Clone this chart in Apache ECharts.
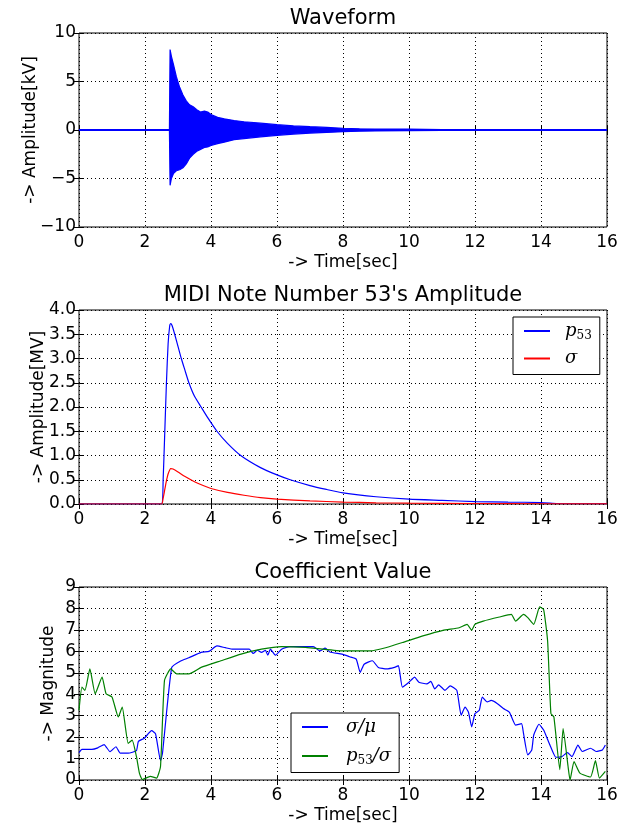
<!DOCTYPE html>
<html>
<head>
<meta charset="utf-8">
<script src="https://cdn.jsdelivr.net/npm/echarts@6/dist/echarts.min.js"></script>
<style>
  html, body { margin: 0; padding: 0; background: #fff; }
  #chart { width: 632px; height: 825px; }
</style>
</head>
<body>
<div id="chart"></div>
<script>
// ---- data ----
// waveform envelope [sec, kV]
var waveUpper = [[2.74,0],[2.76,8.3],[2.8,7.6],[2.86,6.8],[2.95,5.5],[3.05,4.4],[3.15,3.6],[3.25,3.0],[3.35,2.6],
  [3.46,2.4],[3.57,2.1],[3.68,1.85],[3.8,1.95],[3.9,1.85],[4.0,1.6],[4.2,1.3],[4.4,1.15],[4.7,0.97],[5.0,0.85],
  [5.5,0.7],[6.0,0.55],[6.5,0.42],[7.0,0.34],[7.5,0.27],[8.0,0.18],[8.5,0.13],[9.0,0.1],[10,0.08],[11,0.05],
  [12,0.04],[13,0.03],[14,0.03],[16,0.02]];
var waveLower = [[2.74,0],[2.76,-5.7],[2.8,-5.0],[2.86,-4.5],[2.95,-4.2],[3.05,-4.1],[3.15,-3.9],[3.25,-3.5],
  [3.35,-2.9],[3.46,-2.5],[3.57,-2.2],[3.68,-2.0],[3.8,-1.8],[3.9,-1.75],[4.0,-1.6],[4.2,-1.4],[4.4,-1.25],
  [4.7,-1.0],[5.0,-0.88],[5.5,-0.7],[6.0,-0.55],[6.5,-0.42],[7.0,-0.32],[7.5,-0.25],[8.0,-0.17],[8.5,-0.12],
  [9.0,-0.1],[10,-0.07],[11,-0.05],[12,-0.04],[13,-0.03],[14,-0.03],[16,-0.02]];
var waveRest = [[0,0],[16,0]];

// MIDI note 53 amplitude [sec, MV]
var p53 = [[0,0],[2.5,0],[2.55,0.5],[2.6,1.5],[2.65,2.5],[2.7,3.3],[2.75,3.68],[2.78,3.72],[2.82,3.68],
  [2.9,3.5],[3.0,3.25],[3.1,3.0],[3.2,2.78],[3.33,2.5],[3.5,2.22],[3.7,2.0],[3.9,1.78],[4.18,1.5],[4.5,1.25],
  [4.9,1.0],[5.5,0.75],[6.0,0.6],[6.4,0.5],[7.0,0.38],[7.5,0.3],[8.0,0.23],[9.0,0.15],[10,0.1],[11,0.075],
  [12,0.05],[13,0.04],[14,0.03],[14.5,0.01],[15,0.005],[16,0.005]];
var sigma = [[0,0],[2.5,0],[2.55,0.12],[2.6,0.3],[2.65,0.48],[2.7,0.62],[2.78,0.73],[2.85,0.72],[3.0,0.66],
  [3.2,0.57],[3.5,0.46],[3.8,0.37],[4.0,0.32],[4.5,0.24],[5.0,0.18],[5.5,0.13],[6.0,0.1],[7.0,0.065],[8.0,0.04],
  [9,0.025],[10,0.018],[12,0.01],[14,0.005],[16,0.003]];

// coefficient values [sec, magnitude]
var sigmaMu = [[0,1.28],[0.09,1.43],[0.39,1.43],[0.57,1.5],[0.76,1.65],[0.94,1.32],[1.12,1.55],[1.25,1.25],
  [1.49,1.25],[1.74,1.37],[1.8,1.8],[1.98,1.95],[2.2,2.3],[2.32,2.15],[2.47,0.9],[2.53,1.25],[2.81,5.25],
  [3.08,5.55],[3.33,5.7],[3.7,5.95],[3.94,6.0],[4.18,6.25],[4.43,6.17],[4.67,6.1],[5.16,6.1],[5.28,5.9],
  [5.4,6.05],[5.53,5.95],[5.65,6.05],[5.72,5.82],[5.8,6.1],[5.95,5.82],[6.14,6.1],[6.38,6.22],[7.1,6.22],
  [7.3,6.02],[7.46,6.15],[7.6,5.97],[7.97,5.87],[8.2,5.75],[8.4,5.64],[8.52,5.02],[8.64,5.4],[8.89,5.56],
  [9.07,5.25],[9.32,5.18],[9.56,5.25],[9.68,5.33],[9.8,4.33],[10.0,4.56],[10.17,4.8],[10.3,4.56],[10.54,4.48],
  [10.66,4.6],[10.78,4.25],[10.9,4.44],[11.09,4.18],[11.25,4.39],[11.45,4.18],[11.58,3.02],[11.7,3.4],
  [11.8,3.17],[11.9,2.48],[12.0,3.1],[12.13,3.25],[12.22,3.87],[12.37,3.64],[12.49,3.71],[12.68,3.56],
  [12.86,3.33],[13.04,3.17],[13.23,2.56],[13.41,2.63],[13.47,2.17],[13.6,1.17],[13.72,1.4],[13.78,2.1],
  [13.94,2.6],[14.08,2.33],[14.27,1.63],[14.45,1.06],[14.63,1.09],[14.8,1.28],[14.94,1.09],[15.12,1.63],
  [15.25,1.33],[15.5,1.48],[15.67,1.33],[15.86,1.4],[15.95,1.63]];
var p53Sigma = [[0,3.25],[0.09,4.33],[0.18,4.18],[0.33,5.18],[0.49,4.02],[0.7,4.8],[0.82,4.02],[1.0,3.87],
  [1.19,2.94],[1.31,3.4],[1.49,1.71],[1.61,1.86],[1.74,1.1],[1.83,0.32],[1.92,0.02],[2.16,0.17],[2.35,0.09],
  [2.47,0.63],[2.59,4.64],[2.78,5.18],[2.96,4.95],[3.33,4.95],[3.7,5.25],[4.3,5.56],[4.91,5.87],[5.53,6.1],
  [6.14,6.22],[6.87,6.18],[7.97,6.02],[8.83,6.02],[9.32,6.18],[9.8,6.41],[10.42,6.72],[11.03,6.98],
  [11.52,7.1],[11.76,7.26],[11.9,6.98],[12.0,7.26],[12.25,7.41],[12.74,7.6],[13.1,7.72],[13.23,7.41],
  [13.47,7.72],[13.6,7.57],[13.78,7.26],[13.96,8.07],[14.08,7.95],[14.2,6.49],[14.3,3.1],[14.39,2.94],
  [14.57,0.48],[14.67,2.4],[14.82,0.63],[14.88,0],[15.0,0.86],[15.18,0.32],[15.5,0.14],[15.65,0.9],
  [15.77,0.09],[15.95,0.4]];

var titles = ['Waveform', "MIDI Note Number 53's Amplitude", 'Coefficient Value'];
var yNames = ['-> Amplitude[kV]', '-> Amplitude[MV]', '-> Magnitude'];
var yRanges = [[-10, 10, 5], [0, 4, 0.5], [0, 9, 1]];

var FONT = 'DejaVu Sans';
var gridTops = [33, 310, 587];
var yNameGaps = [40, 32, 22];

var chart = echarts.init(document.getElementById('chart'));

var grids = [], xAxes = [], yAxes = [], titleList = [];
for (var i = 0; i < 3; i++) {
  grids.push({
    left: 79, top: gridTops[i], width: 528, height: 194,
    show: true, borderColor: '#000', borderWidth: 1, backgroundColor: '#fff'
  });
  titleList.push({
    text: titles[i], left: 343, top: gridTops[i] - 25, textAlign: 'center', padding: 0,
    textStyle: { fontFamily: FONT, fontSize: 21, fontWeight: 'normal', color: '#000' }
  });
  // bottom axis with labels
  xAxes.push({
    gridIndex: i, type: 'value', min: 0, max: 16, interval: 2,
    name: '-> Time[sec]', nameLocation: 'middle', nameGap: 27, nameMoveOverlap: false,
    nameTextStyle: { fontFamily: FONT, fontSize: 17, color: '#000' },
    axisLine: { show: false },
    axisTick: { inside: true, length: 5, lineStyle: { color: '#000' } },
    axisLabel: { margin: 7, fontFamily: FONT, fontSize: 17, color: '#000' },
    splitLine: { show: true, lineStyle: { color: '#000', type: [1, 3], width: 1 } }
  });
  // top axis, ticks only
  xAxes.push({
    gridIndex: i, type: 'value', min: 0, max: 16, interval: 2, position: 'top',
    axisLine: { show: false },
    axisTick: { inside: true, length: 5, lineStyle: { color: '#000' } },
    axisLabel: { show: false }, splitLine: { show: false }
  });
  var r = yRanges[i];
  yAxes.push({
    gridIndex: i, type: 'value', min: r[0], max: r[1], interval: r[2],
    name: yNames[i], nameLocation: 'middle', nameGap: yNameGaps[i], nameRotate: 90, nameMoveOverlap: false,
    nameTextStyle: { fontFamily: FONT, fontSize: 17, color: '#000' },
    axisLine: { show: false },
    axisTick: { inside: true, length: 5, lineStyle: { color: '#000' } },
    axisLabel: {
      margin: 3, fontFamily: FONT, fontSize: 17, color: '#000',
      formatter: (function (idx) {
        return function (v) {
          var s = idx === 1 ? v.toFixed(1) : String(v);
          return s.replace('-', '\u2212');
        };
      })(i)
    },
    splitLine: { show: true, lineStyle: { color: '#000', type: [1, 3], width: 1 } }
  });
  yAxes.push({
    gridIndex: i, type: 'value', min: r[0], max: r[1], interval: r[2], position: 'right',
    axisLine: { show: false },
    axisTick: { inside: true, length: 5, lineStyle: { color: '#000' } },
    axisLabel: { show: false }, splitLine: { show: false }
  });
}

function lineSeries(name, data, gi, color, extra) {
  var s = {
    name: name, type: 'line', data: data,
    xAxisIndex: gi * 2, yAxisIndex: gi * 2,
    symbol: 'none', animation: false,
    lineStyle: { color: color, width: 1.2 },
    itemStyle: { color: color }
  };
  for (var k in extra) s[k] = extra[k];
  return s;
}

var legendNames = {
  'p53': '{i|p}{s|53}',
  'sigma': '{i|\u03c3}',
  'sigmu': '{i|\u03c3/\u03bc}',
  'p53sig': '{i|p}{s|53}{i|/\u03c3}'
};
var legendRich = {
  i: { fontFamily: 'DejaVu Serif', fontStyle: 'italic', fontSize: 18, color: '#000' },
  s: { fontFamily: 'DejaVu Serif', fontSize: 12, color: '#000', padding: [9, 0, 0, 0] }
};
function mkLegend(names, left, top, textPad, gap) {
  return {
    data: names, orient: 'vertical', left: left, top: top,
    icon: 'rect', itemWidth: 26, itemHeight: 2, itemGap: gap,
    borderColor: '#000', borderWidth: 1, borderRadius: 0, padding: [4, 8, 6, 11],
    backgroundColor: '#fff',
    formatter: function (n) { return legendNames[n]; },
    textStyle: { padding: [0, 0, 0, textPad], lineHeight: 20, rich: legendRich }
  };
}

chart.setOption({
  animation: false,
  backgroundColor: '#fff',
  title: titleList,
  grid: grids,
  xAxis: xAxes,
  yAxis: yAxes,
  legend: [
    mkLegend(['p53', 'sigma'], 513, 317, 10, 7),
    mkLegend(['sigmu', 'p53sig'], 291, 713, 13, 9)
  ],
  series: [
    lineSeries('wave0', waveRest, 0, '#0000ff', { lineStyle: { color: '#0000ff', width: 2 } }),
    lineSeries('waveU', waveUpper, 0, '#0000ff', { areaStyle: { color: '#0000ff', opacity: 1, origin: 0 } }),
    lineSeries('waveL', waveLower, 0, '#0000ff', { areaStyle: { color: '#0000ff', opacity: 1, origin: 0 } }),
    lineSeries('p53', p53, 1, '#0000ff', { smooth: 0.2 }),
    lineSeries('sigma', sigma, 1, '#ff0000', { smooth: 0.2 }),
    lineSeries('sigmu', sigmaMu, 2, '#0000ff', { smooth: 0.15 }),
    lineSeries('p53sig', p53Sigma, 2, '#008000', { smooth: 0.15 })
  ]
});
</script>
</body>
</html>
